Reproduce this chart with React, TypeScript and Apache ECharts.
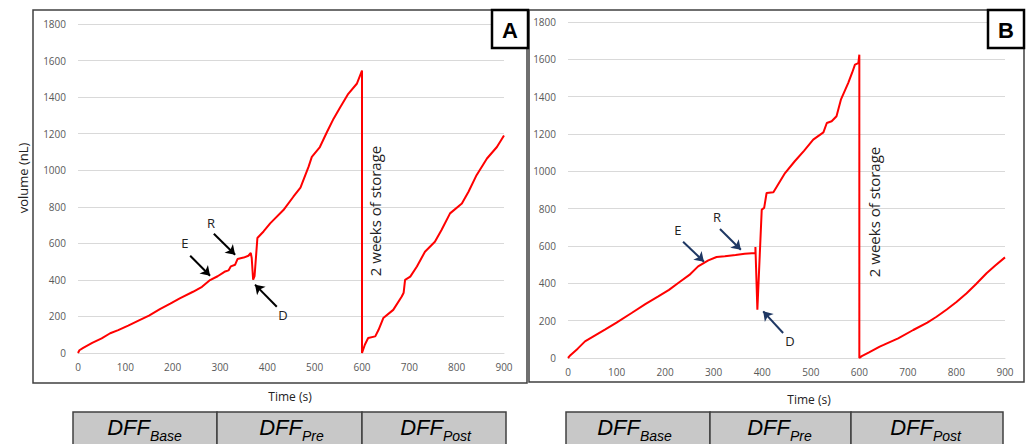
import { useEffect, useRef } from "react";
import * as echarts from "echarts";

// ---- data ----
const timeTicks = [0, 100, 200, 300, 400, 500, 600, 700, 800, 900];
const volumeTicks = [0, 200, 400, 600, 800, 1000, 1200, 1400, 1600, 1800];
const phaseNames = ["Base", "Pre", "Post"];
const storageNote = "2 weeks of storage";

// Panel A: time (s), volume (nL)
const panelA: [number, number][] = [
  [0, 0], [3, 15], [11, 28], [30, 55], [50, 80], [68, 108], [85, 125], [106, 150],
  [130, 180], [150, 205], [173, 240], [195, 270], [215, 299], [243, 335], [262, 362],
  [279, 399], [295, 420], [307, 440], [311, 446], [318, 452], [323, 474], [332, 483],
  [337, 514], [350, 522], [360, 532], [365, 547], [367, 520], [370, 401], [373, 420],
  [379, 629], [392, 665], [406, 709], [434, 782], [455, 855], [470, 905], [487, 1018],
  [494, 1073], [511, 1127], [526, 1209], [540, 1282], [554, 1345], [571, 1418],
  [589, 1473], [600, 1545], [600, 0], [606, 45], [613, 82], [628, 91], [635, 127],
  [645, 191], [666, 236], [684, 309], [688, 330], [691, 400], [702, 418], [716, 473],
  [733, 554], [754, 609], [768, 673], [786, 764], [811, 818], [825, 882], [842, 973],
  [864, 1064], [885, 1127], [900, 1190],
];

// Panel B: time (s), volume (nL)
const panelB: [number, number][] = [
  [0, 0], [5, 15], [20, 50], [35, 89], [55, 120], [76, 152], [100, 190], [131, 241],
  [160, 290], [186, 330], [208, 365], [227, 402], [250, 445], [268, 491], [289, 523],
  [306, 541], [323, 545], [345, 552], [364, 559], [386, 563], [386, 595], [390, 259],
  [399, 795], [404, 804], [409, 884], [423, 888], [447, 991], [467, 1054], [486, 1110],
  [505, 1170], [526, 1209], [533, 1259], [543, 1268], [553, 1295], [562, 1384],
  [577, 1473], [585, 1527], [591, 1572], [598, 1580], [600, 1625], [600, 0], [605, 10],
  [620, 30], [642, 61], [650, 70], [680, 105], [711, 150], [740, 190], [759, 221],
  [780, 260], [800, 300], [821, 347], [840, 395], [862, 454], [880, 495], [900, 539],
];

// Annotation arrows [fromT, fromV, toT, toV] in data coordinates, and labels
const arrowsA: [number, number, number, number][] = [
  [237, 532, 279, 423],
  [287, 652, 332, 538],
  [420, 253, 374, 374],
];
const labelsA: [string, number, number][] = [
  ["E", 226, 602],
  ["R", 281, 712],
  ["D", 433, 210],
];
const arrowsB: [number, number, number, number][] = [
  [237, 623, 280, 516],
  [313, 691, 356, 580],
  [443, 134, 402, 250],
];
const labelsB: [string, number, number][] = [
  ["E", 226, 687],
  ["R", 307, 755],
  ["D", 457, 89],
];

const AXIS_FONT = "Open Sans";

function makeSeries(data: [number, number][], idx: number, arrows: [number, number, number, number][], arrowColor: string) {
  return {
    type: "line",
    xAxisIndex: idx,
    yAxisIndex: idx,
    data,
    showSymbol: false,
    symbol: "none",
    lineStyle: { color: "#ff0000", width: 2 },
    itemStyle: { color: "#ff0000" },
    silent: true,
    markLine: {
      silent: true,
      symbol: ["none", "arrow"],
      symbolSize: 9,
      lineStyle: { color: arrowColor, width: 2, type: "solid" },
      label: { show: false },
      data: arrows.map((a) => [{ coord: [a[0], a[1]] }, { coord: [a[2], a[3]] }]),
    },
  };
}

function xAxisCfg(idx: number) {
  return {
    type: "value",
    gridIndex: idx,
    min: timeTicks[0],
    max: timeTicks[timeTicks.length - 1],
    interval: timeTicks[1] - timeTicks[0],
    axisLine: { show: true, lineStyle: { color: "#d9d9d9", width: 1 } },
    axisTick: { show: false },
    splitLine: { show: false },
    axisLabel: { color: "#595959", fontSize: 10, fontFamily: AXIS_FONT, margin: 9, formatter: (v: number) => String(v) },
  };
}

function yAxisCfg(idx: number) {
  return {
    type: "value",
    gridIndex: idx,
    min: volumeTicks[0],
    max: volumeTicks[volumeTicks.length - 1],
    interval: volumeTicks[1] - volumeTicks[0],
    axisLine: { show: false },
    axisTick: { show: false },
    splitLine: { show: true, lineStyle: { color: "#d9d9d9", width: 1 } },
    axisLabel: { color: "#595959", fontSize: 10, fontFamily: AXIS_FONT, margin: 12, formatter: (v: number) => String(v) },
  };
}

function phaseBoxes(edges: number[], splits: number[]) {
  const els: any[] = [];
  for (let i = 0; i < 3; i++) {
    els.push({
      type: "rect",
      shape: { x: edges[i], y: 412, width: edges[i + 1] - edges[i], height: 40 },
      style: { fill: "#c8c8c8", stroke: "#404040", lineWidth: 1.5 },
      z: 10,
    });
    els.push({
      type: "text",
      x: splits[i],
      y: 427,
      style: {
        text: "DFF",
        font: "italic 22px 'Liberation Sans', Arial, sans-serif",
        fill: "#000",
        textAlign: "right",
        textVerticalAlign: "middle",
        verticalAlign: "middle",
      },
      z: 11,
    });
    els.push({
      type: "text",
      x: splits[i],
      y: 436,
      style: {
        text: phaseNames[i],
        font: "italic 14px 'Liberation Sans', Arial, sans-serif",
        fill: "#000",
        textAlign: "left",
        textVerticalAlign: "middle",
        verticalAlign: "middle",
      },
      z: 11,
    });
  }
  return els;
}

function centerText(text: string, x: number, y: number, font: string, rotation = 0, fill = "#333", z = 12) {
  return {
    type: "text",
    x,
    y,
    rotation,
    style: { text, font, fill, textAlign: "center", textVerticalAlign: "middle", verticalAlign: "middle" },
    z,
  };
}

function letterBox(letter: string, x: number) {
  return [
    {
      type: "rect",
      shape: { x, y: 10, width: 36, height: 38 },
      style: { fill: "#fff", stroke: "#000", lineWidth: 2.5 },
      z: 20,
    },
    centerText(letter, x + 18, 30, "bold 22px 'Liberation Sans', Arial, sans-serif", 0, "#000", 21),
  ];
}

export default function App() {
  const ref = useRef<HTMLDivElement>(null);

  useEffect(() => {
    if (!ref.current) return;
    const chart = echarts.init(ref.current, null, { renderer: "svg" });
    const graphic: any[] = [
      {
        type: "rect",
        shape: { x: 33, y: 10, width: 494, height: 373 },
        style: { fill: "none", stroke: "#404040", lineWidth: 1.5 },
        z: 5,
      },
      {
        type: "rect",
        shape: { x: 529, y: 10, width: 495, height: 372 },
        style: { fill: "none", stroke: "#404040", lineWidth: 1.5 },
        z: 5,
      },
      ...letterBox("A", 492),
      ...letterBox("B", 988),
      centerText("volume (nL)", 23, 178, "13px 'Open Sans', sans-serif", Math.PI / 2, "#222"),
      centerText("Time (s)", 290, 396, "12px 'Open Sans', sans-serif", 0, "#222"),
      centerText("Time (s)", 809, 399, "12px 'Open Sans', sans-serif", 0, "#222"),
      centerText(storageNote, 375, 211, "15px 'Open Sans', sans-serif", Math.PI / 2, "#222"),
      centerText(storageNote, 874, 212, "15px 'Open Sans', sans-serif", Math.PI / 2, "#222"),
      ...phaseBoxes([73, 217, 362, 506], [150, 302, 443]),
      ...phaseBoxes([566, 710, 851, 1003], [640, 790, 933]),
    ];
    chart.setOption({
      animation: false,
      backgroundColor: "#fff",
      grid: [
        { left: 78, top: 24, width: 426, height: 329, containLabel: false },
        { left: 568, top: 22, width: 437, height: 336, containLabel: false },
      ],
      xAxis: [xAxisCfg(0), xAxisCfg(1)],
      yAxis: [yAxisCfg(0), yAxisCfg(1)],
      series: [
        makeSeries(panelA, 0, arrowsA, "#000000"),
        makeSeries(panelB, 1, arrowsB, "#1f3864"),
      ],
      graphic,
    });
    const labelEls: any[] = [];
    ([[labelsA, 0], [labelsB, 1]] as [[string, number, number][], number][]).forEach(([labels, gi]) => {
      labels.forEach((l) => {
        const p = chart.convertToPixel({ gridIndex: gi }, [l[1], l[2]]) as number[];
        labelEls.push(centerText(l[0], p[0], p[1], "13px 'Open Sans', sans-serif", 0, "#222"));
      });
    });
    chart.setOption({ graphic: [...graphic, ...labelEls] });
    return () => chart.dispose();
  }, []);

  return (
    <div
      ref={ref}
      style={{ position: "absolute", left: 0, top: 0, width: 1027, height: 444, background: "#fff" }}
    />
  );
}
